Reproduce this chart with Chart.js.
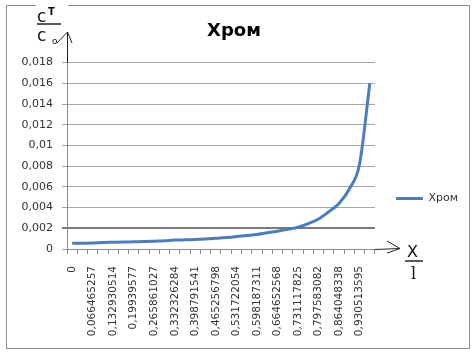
<!DOCTYPE html>
<html>
<head>
<meta charset="utf-8">
<script src="https://cdn.jsdelivr.net/npm/chart.js@4"></script>
<style>
  html, body { margin: 0; padding: 0; background: #fff; }
  #wrap { width: 476px; height: 357px; position: relative; }
</style>
</head>
<body>
<div id="wrap"><canvas id="c" width="476" height="357"></canvas></div>
<script>
const categories = [
  "0","0,033232628","0,066465257","0,099697885","0,132930514","0,166163142",
  "0,19939577","0,232628399","0,265861027","0,299093656","0,332326284","0,365558912",
  "0,398791541","0,432024169","0,465256798","0,498489426","0,531722054","0,564954683",
  "0,598187311","0,63141994","0,664652568","0,697885196","0,731117825","0,764350453",
  "0,797583082","0,83081571","0,864048338","0,897280967","0,930513595","0,963746224"
];
const seriesName = "Хром";
const chromValues = [
  0.00055, 0.00056, 0.00058, 0.00063, 0.00065, 0.00067,
  0.00070, 0.00072, 0.00076, 0.00080, 0.00086, 0.00089,
  0.00092, 0.00097, 0.00103, 0.00110, 0.00120, 0.00130,
  0.00140, 0.00157, 0.00172, 0.00190, 0.00210, 0.00245,
  0.00290, 0.00360, 0.00440, 0.00580, 0.00820, 0.01600
];
const yTicks = { min: 0, max: 0.018, step: 0.002 };

const fmt = v => String(Number(v.toFixed(4))).replace('.', ',');

const decor = {
  id: 'decor',
  afterLayout(chart) {
    const lg = chart.legend;
    if (lg) { const h = lg.bottom - lg.top; lg.top = 172; lg.bottom = lg.top + h; }
  },
  beforeDraw(chart) {
    const ctx = chart.ctx;
    ctx.save();
    ctx.strokeStyle = '#8c8c8c';
    ctx.lineWidth = 1;
    ctx.beginPath();
    ctx.moveTo(36, 5.5); ctx.lineTo(6.5, 5.5); ctx.lineTo(6.5, 348.5);
    ctx.lineTo(469.5, 348.5); ctx.lineTo(469.5, 5.5); ctx.lineTo(68, 5.5);
    ctx.stroke();
    ctx.restore();
  },
  afterDraw(chart) {
    const ctx = chart.ctx;
    const ca = chart.chartArea;
    const ax = Math.round(ca.left) + 0.5;
    const ay = Math.round(ca.bottom) + 0.5;
    ctx.save();
    ctx.strokeStyle = '#222';
    ctx.fillStyle = '#111';
    ctx.lineWidth = 1;
    // y-axis extension with arrow
    ctx.beginPath();
    ctx.moveTo(ax, ca.top); ctx.lineTo(ax, 32);
    ctx.moveTo(57, 43); ctx.lineTo(ax, 32); ctx.lineTo(72, 43);
    // x-axis extension with arrow
    ctx.moveTo(ca.right, ay); ctx.lineTo(400, ay - 1);
    ctx.moveTo(387, 241); ctx.lineTo(400, ay - 1); ctx.lineTo(387, 253);
    ctx.stroke();
    // y annotation  c^T / c0
    ctx.font = '17px "DejaVu Sans"';
    ctx.textBaseline = 'alphabetic';
    ctx.fillText('c', 37, 22);
    ctx.font = 'bold 10px "DejaVu Sans"';
    ctx.fillText('T', 48, 15);
    ctx.lineWidth = 1.5;
    ctx.beginPath(); ctx.moveTo(37, 24); ctx.lineTo(61, 24); ctx.stroke();
    ctx.font = '17px "DejaVu Sans"';
    ctx.fillText('c', 37, 41);
    ctx.font = '9px "DejaVu Sans"';
    ctx.fillText('o', 52, 44);
    // x annotation  X / l
    ctx.font = '16px "DejaVu Sans"';
    ctx.fillText('X', 407, 257);
    ctx.beginPath(); ctx.moveTo(405, 261); ctx.lineTo(423, 261); ctx.stroke();
    ctx.font = '16px "DejaVu Serif"';
    ctx.fillText('l', 411, 279);
    ctx.restore();
  }
};

new Chart(document.getElementById('c'), {
  type: 'line',
  data: {
    labels: categories,
    datasets: [{
      label: seriesName,
      data: chromValues,
      borderColor: '#4a7ebb',
      backgroundColor: '#4a7ebb',
      borderWidth: 3,
      pointRadius: 0,
      pointStyle: 'line',
      cubicInterpolationMode: 'monotone',
      fill: false
    }]
  },
  options: {
    responsive: false,
    animation: false,
    layout: { padding: { left: 0, right: 8, top: 0, bottom: 0 } },
    plugins: {
      title: {
        display: true,
        text: seriesName,
        color: '#000',
        font: { family: 'DejaVu Sans', size: 18, weight: 'bold' },
        padding: { top: 21, bottom: 20 }
      },
      legend: {
        display: true,
        position: 'right',
        align: 'start',
        labels: {
          usePointStyle: true,
          pointStyle: 'line',
          pointStyleWidth: 27,
          boxHeight: 10,
          padding: 21,
          color: '#333',
          font: { family: 'DejaVu Sans', size: 11 }
        }
      },
      tooltip: { enabled: false }
    },
    scales: {
      x: {
        type: 'category',
        offset: true,
        afterFit: s => { s.height = 108; },
        grid: { display: true, drawOnChartArea: false, drawTicks: true, tickLength: 5, color: '#8c8c8c', offset: true },
        border: { display: true, color: '#8c8c8c' },
        ticks: {
          autoSkip: false,
          maxRotation: 90,
          minRotation: 90,
          padding: 12,
          color: '#333',
          font: { family: 'DejaVu Sans', size: 10.5 },
          callback: (v, i) => (i % 2 === 0 ? categories[i] : '')
        }
      },
      y: {
        min: yTicks.min,
        max: yTicks.max,
        afterFit: s => { s.width = 67; },
        grid: {
          color: c => (c.tick && Math.abs(c.tick.value - 0.002) < 1e-9) ? '#7a7a7a' : '#a6a6a6',
          lineWidth: c => (c.tick && Math.abs(c.tick.value - 0.002) < 1e-9) ? 2 : 1,
          tickLength: 5
        },
        border: { display: true, color: '#8c8c8c' },
        ticks: {
          stepSize: yTicks.step,
          padding: 9,
          color: '#333',
          font: { family: 'DejaVu Sans', size: 11 },
          callback: v => fmt(v)
        }
      }
    }
  },
  plugins: [decor]
});
</script>
</body>
</html>
